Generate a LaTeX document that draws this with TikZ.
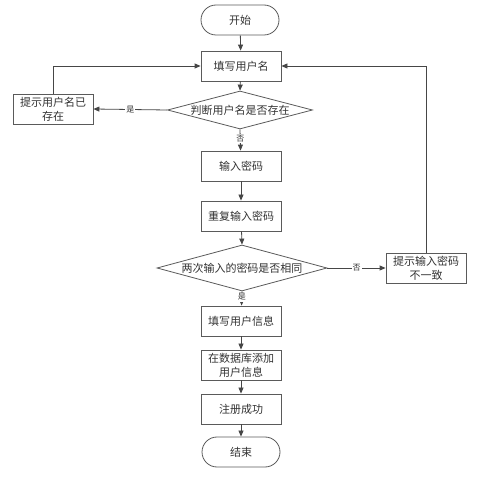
\documentclass[tikz,border=0pt]{standalone}
\usepackage{fontspec}
\newfontfamily\cjk{Noto Sans CJK SC}
\usetikzlibrary{shapes.geometric,shapes.misc,arrows.meta}
\definecolor{ln}{RGB}{70,70,70}
\definecolor{bx}{RGB}{90,90,90}
\definecolor{tx}{RGB}{50,50,50}
\begin{document}
\begin{tikzpicture}[x=1pt,y=-1pt,
  font=\cjk\fontsize{11}{14}\selectfont,
  every node/.style={text=tx},
  procbox/.style={draw=bx,line width=0.8pt,minimum width=80pt,minimum height=30pt,inner sep=1pt,align=center},
  termbox/.style={draw=bx,line width=0.8pt,rounded rectangle,minimum width=80pt,minimum height=30pt,inner sep=1pt},
  decbox/.style={draw=bx,line width=0.8pt,diamond,aspect=3.9,inner sep=0pt},
  conn/.style={draw=ln,line width=0.8pt,-{Triangle[length=6pt,width=5pt]}},
  lbl/.style={font=\cjk\fontsize{8}{9}\selectfont,fill=white,inner sep=1pt}]
\useasboundingbox (0,0) rectangle (499,484);
\node[termbox] (start) at (240,20) {开始};
\node[procbox] (name) at (241,66) {填写用户名};
\node[decbox,minimum width=145pt,minimum height=38pt] (chk) at (240,110) {};
\node (chkt) at (chk.center) {判断用户名是否存在};
\node[procbox] (exist) at (53,109) {提示用户名已\\存在};
\node[procbox] (pw) at (241,166) {输入密码};
\node[procbox] (pw2) at (241,216) {重复输入密码};
\node[decbox,minimum width=170pt,minimum height=46pt] (same) at (242,268) {};
\node (samet) at (same.center) {两次输入的密码是否相同};
\node[procbox] (diff) at (426,268) {提示输入密码\\不一致};
\node[procbox] (info) at (241,321) {填写用户信息};
\node[procbox] (db) at (241,365) {在数据库添加\\用户信息};
\node[procbox] (ok) at (241,409) {注册成功};
\node[termbox] (end) at (241,452) {结束};
\coordinate (c1) at (exist.north |- name.west);
\coordinate (c2) at (diff.north |- name.east);
\draw[conn] (start) -- (name);
\draw[conn] (name) -- (chk.north);
\draw[conn] (chk.west) -- node[lbl]{是} (exist.east);
\draw[conn] (exist.north) -- (c1) -- (name.west);
\draw[conn] (chk.south) -- node[lbl,pos=0.45]{否} (pw);
\draw[conn] (pw) -- (pw2);
\draw[conn] (pw2) -- (same.north);
\draw[conn] (same.east) -- node[lbl]{否} (diff.west);
\draw[conn] (diff.north) -- (c2) -- (name.east);
\draw[conn] (same.south) -- node[lbl,pos=0.4]{是} (info);
\draw[conn] (info) -- (db);
\draw[conn] (db) -- (ok);
\draw[conn] (ok) -- (end);
\end{tikzpicture}
\end{document}
